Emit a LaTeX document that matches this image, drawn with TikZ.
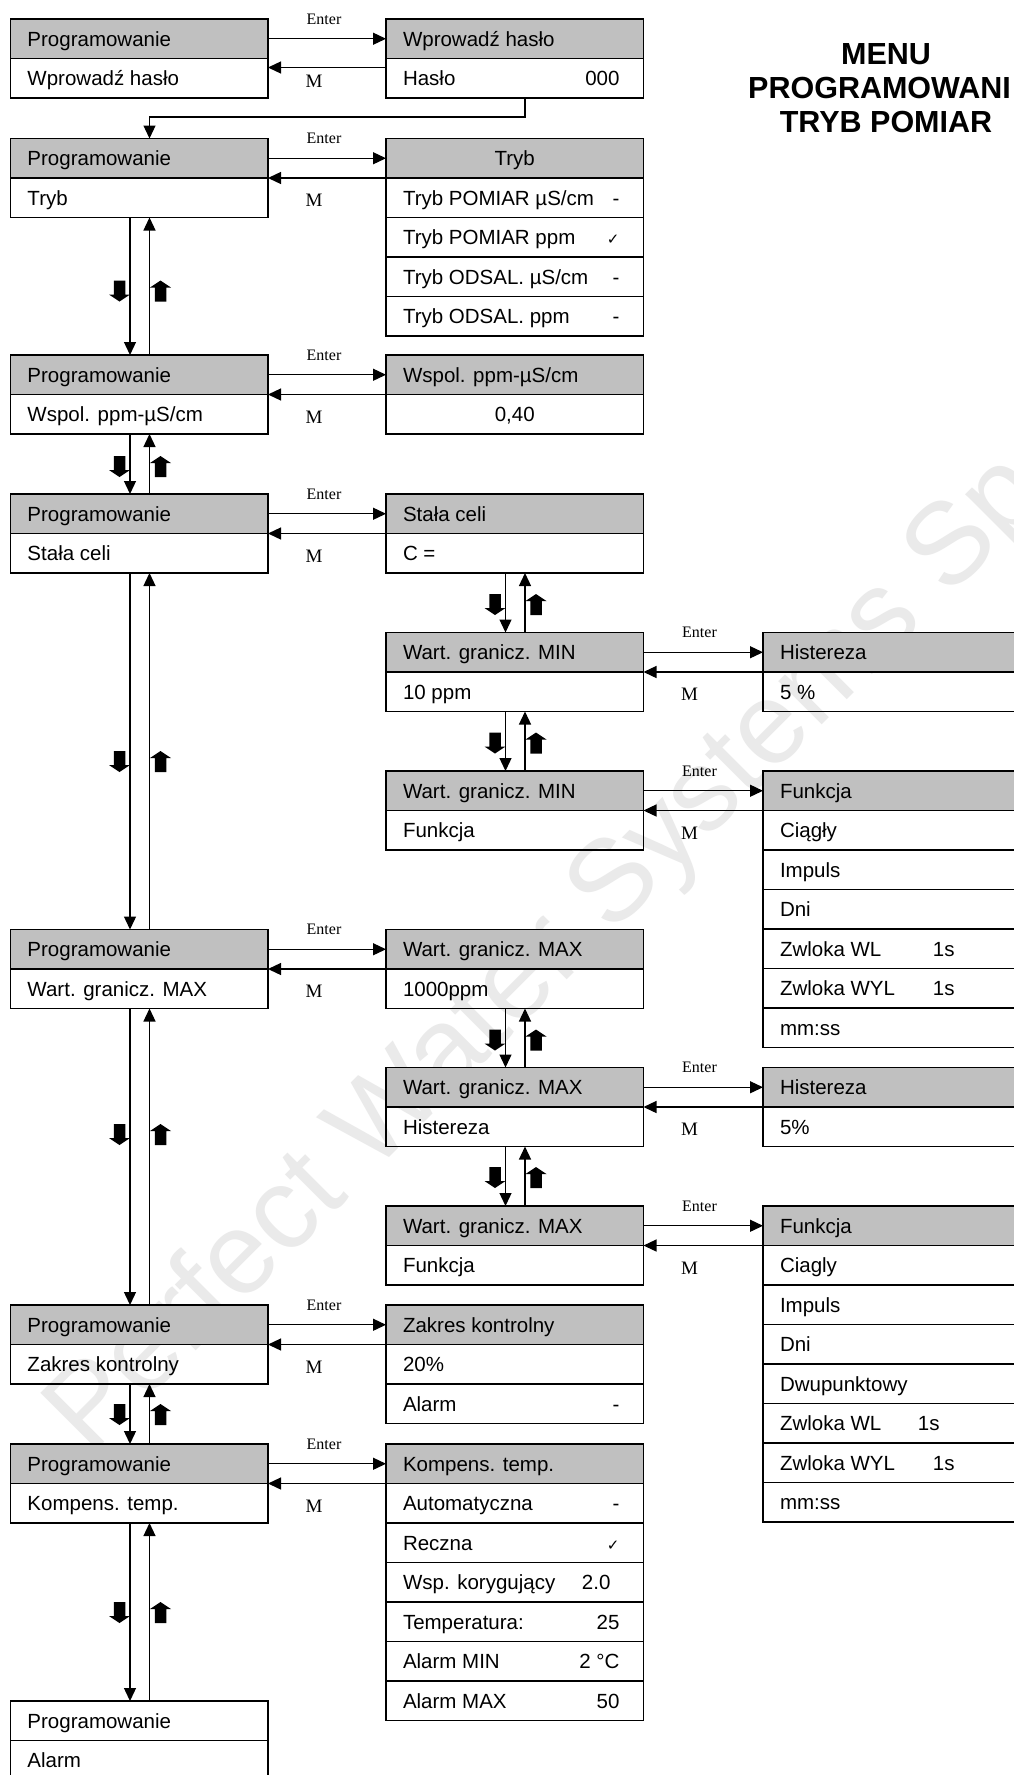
\documentclass[tikz,border=0pt]{standalone}
\usepackage{fontspec}
\setmainfont{Liberation Sans}
\newfontfamily\serifl{Liberation Serif}
\newfontfamily\djv{DejaVu Sans}
\usetikzlibrary{arrows.meta,calc}
\definecolor{hdrgray}{RGB}{192,192,192}
\definecolor{wmgray}{RGB}{234,234,234}
\newcommand{\rowval}[2]{\hspace*{17pt}\makebox[216.5pt][l]{#1\hfill#2}\hspace*{24pt}}
\newcommand{\rowleft}[1]{\hspace*{17pt}\makebox[240.5pt][l]{#1}}
\newcommand{\rowcent}[1]{\makebox[257.5pt][c]{#1}}
\newcommand{\rowtab}[3]{\hspace*{17pt}\makebox[#3][l]{#1}\makebox[\dimexpr240.5pt-#3\relax][l]{#2}}
\newcommand{\chkm}{{\djv\fontsize{15}{15}\selectfont ✓}}
\newcommand{\blkdn}[2]{\fill[shift={(#1,#2)}] (-5.75,0) -- (5.75,0) -- (5.75,14) -- (10.5,14) -- (0,21) -- (-10.5,14) -- (-5.75,14) -- cycle;}
\newcommand{\blkup}[2]{\fill[shift={(#1,#2)}] (0,0) -- (10.5,7) -- (5.75,7) -- (5.75,21) -- (-5.75,21) -- (-5.75,7) -- (-10.5,7) -- cycle;}
\tikzset{
  cell/.style={draw, line width=1.8pt, rectangle, minimum width=257.5pt, minimum height=39.5pt,
    inner sep=0pt, outer sep=0pt, anchor=north west, text height=16pt, text depth=1.3pt,
    font=\fontsize{20.5}{24}\selectfont},
  hcell/.style={cell, fill=hdrgray},
  conn/.style={line width=1.3pt, -{Triangle[length=13pt,width=12pt]}},
  enterlbl/.style={font=\serifl\fontsize{16}{16}\selectfont, inner sep=0pt},
  mlbl/.style={font=\serifl\fontsize{19}{19}\selectfont, inner sep=0pt},
  ttl/.style={font=\bfseries\fontsize{30.5}{30.5}\selectfont, inner sep=0pt},
  wmark/.style={font=\fontsize{116}{116}\selectfont, text=wmgray, inner sep=0pt}
}
\begin{document}
\begin{tikzpicture}[x=1pt,y=-1pt]
\useasboundingbox[fill=white] (0,0) rectangle (1014,1775);
% watermark
\node[wmark, rotate=45, anchor=base west] (wm) at (90,1457) {Perfect Water Systems Sp};
% title
\node[ttl] (t1) at (886,54) {MENU};
\node[ttl, anchor=west] (t2) at (748,88) {PROGRAMOWANI};
\node[ttl] (t3) at (886,122) {TRYB POMIAR};

% Row A
\node[hcell] (a1) at (10.5,19) {\rowleft{Programowanie}};
\node[cell] (a2) at (a1.south west) {\rowleft{Wprowadź hasło}};
\node[hcell] (ar1) at (386,19) {\rowleft{Wprowadź hasło}};
\node[cell] (ar2) at (ar1.south west) {\rowval{Hasło}{000}};
% Row B
\node[hcell] (b1) at (10.5,138.5) {\rowleft{Programowanie}};
\node[cell] (b2) at (b1.south west) {\rowleft{Tryb}};
\node[hcell] (br1) at (386,138.5) {\rowcent{Tryb}};
\node[cell] (br2) at (br1.south west) {\rowval{Tryb POMIAR µS/cm}{-}};
\node[cell] (br3) at (br2.south west) {\rowval{Tryb POMIAR ppm}{\chkm}};
\node[cell] (br4) at (br3.south west) {\rowval{Tryb ODSAL. µS/cm}{-}};
\node[cell] (br5) at (br4.south west) {\rowval{Tryb ODSAL. ppm}{-}};
% Row C
\node[hcell] (c1) at (10.5,355) {\rowleft{Programowanie}};
\node[cell] (c2) at (c1.south west) {\rowleft{Wspol. ppm-µS/cm}};
\node[hcell] (cr1) at (386,355) {\rowleft{Wspol. ppm-µS/cm}};
\node[cell] (cr2) at (cr1.south west) {\rowcent{0,40}};
% Row D
\node[hcell] (d1) at (10.5,494) {\rowleft{Programowanie}};
\node[cell] (d2) at (d1.south west) {\rowleft{Stała celi}};
\node[hcell] (dr1) at (386,494) {\rowleft{Stała celi}};
\node[cell] (dr2) at (dr1.south west) {\rowleft{C =}};
% MIN1
\node[hcell] (n1a) at (386,632.5) {\rowleft{Wart. granicz. MIN}};
\node[cell] (n1b) at (n1a.south west) {\rowleft{10 ppm}};
\node[hcell] (h1a) at (763,632.5) {\rowleft{Histereza}};
\node[cell] (h1b) at (h1a.south west) {\rowleft{5 \%}};
% MIN2
\node[hcell] (n2a) at (386,771) {\rowleft{Wart. granicz. MIN}};
\node[cell] (n2b) at (n2a.south west) {\rowleft{Funkcja}};
\node[hcell] (f1a) at (763,771) {\rowleft{Funkcja}};
\node[cell] (f1b) at (f1a.south west) {\rowleft{Ciągły}};
\node[cell] (f1c) at (f1b.south west) {\rowleft{Impuls}};
\node[cell] (f1d) at (f1c.south west) {\rowleft{Dni}};
\node[cell] (f1e) at (f1d.south west) {\rowtab{Zwloka WL}{1s}{153pt}};
\node[cell] (f1f) at (f1e.south west) {\rowtab{Zwloka WYL}{1s}{153pt}};
\node[cell] (f1g) at (f1f.south west) {\rowleft{mm:ss}};
% Row E
\node[hcell] (e1) at (10.5,929.5) {\rowleft{Programowanie}};
\node[cell] (e2) at (e1.south west) {\rowleft{Wart. granicz. MAX}};
\node[hcell] (er1) at (386,929.5) {\rowleft{Wart. granicz. MAX}};
\node[cell] (er2) at (er1.south west) {\rowleft{1000ppm}};
% MAX2
\node[hcell] (x1a) at (386,1067.5) {\rowleft{Wart. granicz. MAX}};
\node[cell] (x1b) at (x1a.south west) {\rowleft{Histereza}};
\node[hcell] (h2a) at (763,1067.5) {\rowleft{Histereza}};
\node[cell] (h2b) at (h2a.south west) {\rowleft{5\%}};
% MAX3
\node[hcell] (x2a) at (386,1206) {\rowleft{Wart. granicz. MAX}};
\node[cell] (x2b) at (x2a.south west) {\rowleft{Funkcja}};
\node[hcell] (f2a) at (763,1206) {\rowleft{Funkcja}};
\node[cell] (f2b) at (f2a.south west) {\rowleft{Ciagly}};
\node[cell] (f2c) at (f2b.south west) {\rowleft{Impuls}};
\node[cell] (f2d) at (f2c.south west) {\rowleft{Dni}};
\node[cell] (f2e) at (f2d.south west) {\rowleft{Dwupunktowy}};
\node[cell] (f2f) at (f2e.south west) {\rowtab{Zwloka WL}{1s}{138pt}};
\node[cell] (f2g) at (f2f.south west) {\rowtab{Zwloka WYL}{1s}{153pt}};
\node[cell] (f2h) at (f2g.south west) {\rowleft{mm:ss}};
% Row F
\node[hcell] (z1) at (10.5,1305) {\rowleft{Programowanie}};
\node[cell] (z2) at (z1.south west) {\rowleft{Zakres kontrolny}};
\node[hcell] (zr1) at (386,1305) {\rowleft{Zakres kontrolny}};
\node[cell] (zr2) at (zr1.south west) {\rowleft{20\%}};
\node[cell] (zr3) at (zr2.south west) {\rowval{Alarm}{-}};
% Row G
\node[hcell] (k1) at (10.5,1444) {\rowleft{Programowanie}};
\node[cell] (k2) at (k1.south west) {\rowleft{Kompens. temp.}};
\node[hcell] (kr1) at (386,1444) {\rowleft{Kompens. temp.}};
\node[cell] (kr2) at (kr1.south west) {\rowval{Automatyczna}{-}};
\node[cell] (kr3) at (kr2.south west) {\rowval{Reczna}{\chkm}};
\node[cell] (kr4) at (kr3.south west) {\rowval{Wsp. korygujący}{2.0\hspace*{9pt}}};
\node[cell] (kr5) at (kr4.south west) {\rowval{Temperatura:}{25}};
\node[cell] (kr6) at (kr5.south west) {\rowval{Alarm MIN}{2 °C}};
\node[cell] (kr7) at (kr6.south west) {\rowval{Alarm MAX}{50}};
% Row H
\node[cell] (q1) at (10.5,1701) {\rowleft{Programowanie}};
\node[cell] (q2) at (q1.south west) {\rowleft{Alarm}};

% Enter / M connectors
\draw[conn] (a1.east) -- (ar1.west);
\draw[conn] ([yshift=-9pt]ar1.south west) -- ([yshift=-9pt]a1.south east);
\foreach \l/\r in {b1/br1,c1/cr1,d1/dr1,e1/er1,z1/zr1,k1/kr1,n1a/h1a,n2a/f1a,x1a/h2a,x2a/f2a}{
  \draw[conn] (\l.east) -- (\r.west);
  \draw[conn] (\r.south west) -- (\l.south east);
}
% labels
\foreach \l/\b/\n in {a1/a2/A,b1/b2/B,c1/c2/C,d1/d2/D,e1/e2/E,z1/z2/F,k1/k2/G,n1a/n1b/P,n2a/n2b/Q,x1a/x1b/R,x2a/x2b/S}{
  \node[enterlbl] (ent\n) at ([xshift=56pt]\l.north east) {Enter};
  \node[mlbl] (mm\n) at ([xshift=46pt,yshift=-3pt]\b.east) {M};
}
% password connector
\draw[conn] ([xshift=139pt]ar2.south west) -- ++(0,19) -| ([xshift=139pt]b1.north west);
% vertical connectors
\foreach \u/\d in {b2/c1,c2/d1,d2/e1,e2/z1,z2/k1,k2/q1,dr2/n1a,n1b/n2a,er2/x1a,x1b/x2a}{
  \draw[conn] ([xshift=119.5pt]\u.south west) -- ([xshift=119.5pt]\d.north west);
  \draw[conn] ([xshift=139pt]\d.north west) -- ([xshift=139pt]\u.south west);
}
% block arrows
\foreach \y in {280.5,456,751,1124,1404,1602}{\blkdn{119.5}{\y}\blkup{160.5}{\y}}
\foreach \y in {594,732.5,1029.5,1167}{\blkdn{495}{\y}\blkup{536}{\y}}
\end{tikzpicture}
\end{document}
